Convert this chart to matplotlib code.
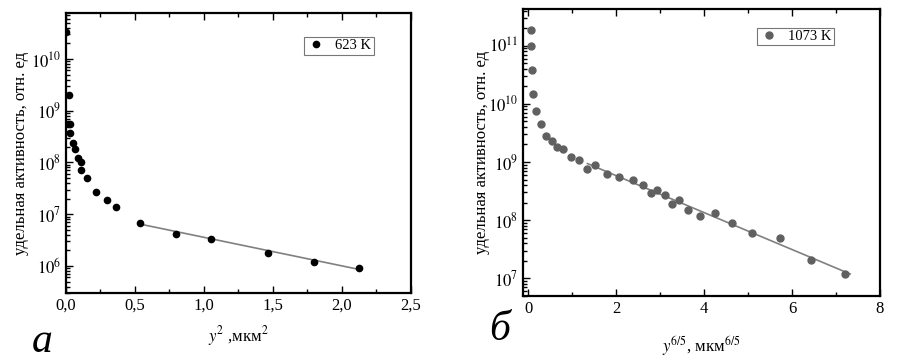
import matplotlib
matplotlib.use("Agg")
import matplotlib.pyplot as plt
import matplotlib.ticker as mticker
import numpy as np

plt.rcParams['font.family'] = ['Liberation Serif', 'DejaVu Serif']
plt.rcParams['mathtext.fontset'] = 'stix'

# --- panel a: 623 K, x = y^2 (мкм^2)
xa = [0.0, 0.02, 0.017, 0.03, 0.03, 0.048, 0.065, 0.085, 0.107, 0.107,
      0.15, 0.22, 0.30, 0.36, 0.536, 0.80, 1.049, 1.464, 1.80, 2.125]
ya = [3.3e10, 2.0e9, 5.5e8, 5.5e8, 3.7e8, 2.4e8, 1.8e8, 1.23e8, 1.0e8, 7.2e7,
      5.1e7, 2.7e7, 1.9e7, 1.4e7, 6.9e6, 4.1e6, 3.3e6, 1.76e6, 1.21e6, 9.0e5]
fit_xa = [0.53, 2.13]
fit_ya = [6.5e6, 8.5e5]

# --- panel б: 1073 K, x = y^(6/5) (мкм^(6/5))
xb = [0.06, 0.07, 0.08, 0.12, 0.19, 0.29, 0.42, 0.55, 0.67, 0.80,
      0.98, 1.16, 1.33, 1.52, 1.79, 2.07, 2.38, 2.62, 2.79, 2.94,
      3.11, 3.27, 3.43, 3.64, 3.92, 4.26, 4.64, 5.09, 5.72, 6.44, 7.2]
yb = [1.86e11, 1.0e11, 3.8e10, 1.46e10, 7.5e9, 4.5e9, 2.77e9, 2.26e9, 1.8e9, 1.7e9,
      1.24e9, 1.1e9, 7.5e8, 8.9e8, 6.3e8, 5.5e8, 4.9e8, 4.0e8, 2.9e8, 3.3e8,
      2.7e8, 1.9e8, 2.2e8, 1.47e8, 1.2e8, 1.33e8, 9.0e7, 6.0e7, 4.9e7, 2.06e7, 1.2e7]
fit_xb = [1.35, 7.32]
fit_yb = [9.4e8, 1.19e7]

ylabel = 'удельная активность, отн. ед'

fig = plt.figure(figsize=(9.24, 3.63), dpi=100)
ax1 = fig.add_axes([0.0714, 0.1928, 0.3734, 0.7714])
ax2 = fig.add_axes([0.566, 0.1846, 0.3864, 0.7906])


def style(ax):
    for s in ax.spines.values():
        s.set_linewidth(1.6)
    ax.tick_params(which='both', direction='in', top=True, right=False,
                   labelsize=12, width=1.0)
    ax.tick_params(which='major', length=5)
    ax.tick_params(which='minor', length=3)
    ax.yaxis.set_major_locator(mticker.LogLocator(base=10, numticks=20))
    ax.yaxis.set_minor_locator(mticker.LogLocator(base=10, subs=np.arange(2, 10), numticks=20))
    ax.yaxis.set_major_formatter(mticker.FuncFormatter(
        lambda v, p: r'$10^{%d}$' % round(np.log10(v))))
    ax.yaxis.set_minor_formatter(mticker.NullFormatter())


def box_legend(ax, anchor):
    leg = ax.legend(loc='upper left', bbox_to_anchor=anchor, borderaxespad=0,
                    frameon=True, fancybox=False, fontsize=10.5,
                    handletextpad=0.7, borderpad=0.15, handlelength=1.3)
    leg.get_frame().set_edgecolor('#555555')
    leg.get_frame().set_linewidth(0.8)
    return leg


# panel a
ax1.plot(fit_xa, fit_ya, color='#808080', lw=1.2, zorder=2)
ax1.plot(xa, ya, 'o', color='black', ms=4.5, label='623 K', zorder=3)
ax1.set_yscale('log')
ax1.set_xlim(0, 2.5)
ax1.set_ylim(3.0e5, 7.75e10)
style(ax1)
ax1.xaxis.set_major_locator(mticker.MultipleLocator(0.5))
ax1.xaxis.set_minor_locator(mticker.MultipleLocator(0.25))
ax1.xaxis.set_major_formatter(mticker.FuncFormatter(lambda v, p: ('%.1f' % v).replace('.', ',')))
ax1.set_xlabel(r'$y^2$ ,мкм$^2$', fontsize=12, labelpad=7)
ax1.set_ylabel(ylabel, fontsize=12)
ax1.yaxis.set_label_coords(-0.107, 0.5)
box_legend(ax1, (0.69, 0.914))

# panel б
ax2.plot(fit_xb, fit_yb, color='#808080', lw=1.2, zorder=2)
ax2.plot(xb, yb, 'o', color='#606060', ms=5, label='1073 K', zorder=3)
ax2.set_yscale('log')
ax2.set_xlim(-0.114, 8.0)
ax2.set_ylim(4.97e6, 4.27e11)
style(ax2)
ax2.xaxis.set_major_locator(mticker.MultipleLocator(2))
ax2.xaxis.set_minor_locator(mticker.MultipleLocator(1))
ax2.xaxis.set_major_formatter(mticker.FuncFormatter(lambda v, p: '%d' % v))
ax2.set_xlabel(r'$y^{6/5}$, мкм$^{6/5}$', fontsize=12, labelpad=12)
ax2.set_ylabel(ylabel, fontsize=12)
ax2.yaxis.set_label_coords(-0.092, 0.5)
box_legend(ax2, (0.655, 0.935))

# panel letters
fig.text(42 / 924, 1 - 342 / 363, 'а', fontsize=30, style='italic', ha='center', va='center')
fig.text(500 / 924, 1 - 330 / 363, 'б', fontsize=30, style='italic', ha='center', va='center')

fig.savefig('out.png', dpi=100)
